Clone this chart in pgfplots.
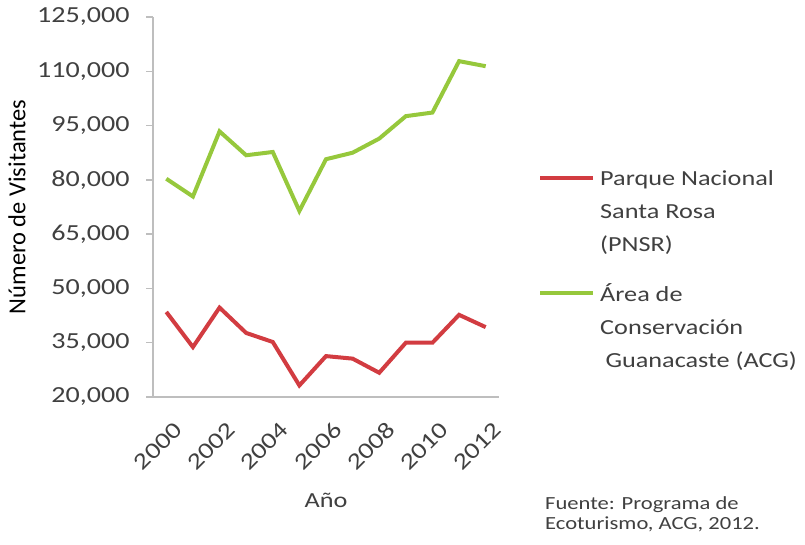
\documentclass[border=0pt]{standalone}
\usepackage{pgfplots}
\pgfplotsset{compat=1.18}
\usepackage{fontspec}
\setmainfont{Carlito}[FakeStretch=1.22]
\newfontfamily\plainfont{Carlito}
\definecolor{txt}{RGB}{64,64,64}
\definecolor{axgray}{RGB}{190,190,190}
\definecolor{pnsr}{RGB}{210,60,65}
\definecolor{acg}{RGB}{150,200,60}
\begin{document}
\begin{tikzpicture}
\path[use as bounding box] (-153pt,-148pt) rectangle (652pt,397pt);
\begin{axis}[
  at={(0,0)}, anchor=south west,
  scale only axis, width=346pt, height=380pt,
  xmin=1999.5, xmax=2012.5, ymin=20000, ymax=125000,
  scaled ticks=false,
  axis x line*=bottom, axis y line*=left,
  axis line style={draw=axgray, line width=1.5pt, -},
  xtick={2000,2002,...,2012},
  xticklabels={2000,2002,2004,2006,2008,2010,2012},
  ytick={20000,35000,...,125000},
  yticklabels={{20,000},{35,000},{50,000},{65,000},{80,000},{95,000},{110,000},{125,000}},
  major tick length=7pt,
  x tick style={draw=none},
  y tick style={draw=axgray, line width=1.5pt},
  tick align=outside,
  ticklabel style={font=\fontsize{23}{26}\selectfont, text=txt},
  xticklabel style={rotate=45, anchor=north east, inner sep=2pt, xshift=-5pt, yshift=-14pt},
  yticklabel style={xshift=-13pt},
  /pgf/number format/assume math mode=true,
  xlabel={Año}, ylabel={\plainfont Número de Visitantes},
  xlabel style={font=\fontsize{21.5}{24}\selectfont, text=txt, at={(axis description cs:0.5,0)}, anchor=center, yshift=-103pt},
  ylabel style={font=\fontsize{24.5}{26}\selectfont, text=black, at={(axis description cs:-0.393,0.50)}, anchor=center, rotate=0},
  legend cell align=left,
  legend style={draw=none, fill=none, at={(1,1)}, anchor=north west, xshift=36pt, yshift=-149pt,
    font=\fontsize{21.5}{33}\selectfont, text=txt,
    nodes={align=left, inner ysep=2pt, inner xsep=5pt},
    row sep=27pt},
  legend image code/.code={\draw[#1, line width=4pt] (0pt,33pt) -- (53pt,33pt);},
  clip=false,
]
\addplot[pnsr, line width=4pt] coordinates {
(2000,43500) (2001,33800) (2002,44700) (2003,37700) (2004,35200) (2005,23200)
(2006,31300) (2007,30600) (2008,26700) (2009,35000) (2010,35000) (2011,42700) (2012,39300)};
\addlegendentry{Parque Nacional\\Santa Rosa\\(PNSR)}
\addplot[acg, line width=4pt] coordinates {
(2000,80300) (2001,75400) (2002,93400) (2003,86800) (2004,87700) (2005,71400)
(2006,85700) (2007,87500) (2008,91400) (2009,97600) (2010,98600) (2011,112800) (2012,111400)};
\addlegendentry{Área de\\Conservación\\\hspace{0.25em}Guanacaste (ACG)}
\node[anchor=north west, align=left, font=\fontsize{18.5}{20.5}\selectfont, text=txt, inner sep=0pt]
  at (rel axis cs:1,0) [xshift=46pt, yshift=-99pt] {Fuente: Programa de\\Ecoturismo, ACG, 2012.};
\end{axis}
\end{tikzpicture}
\end{document}
